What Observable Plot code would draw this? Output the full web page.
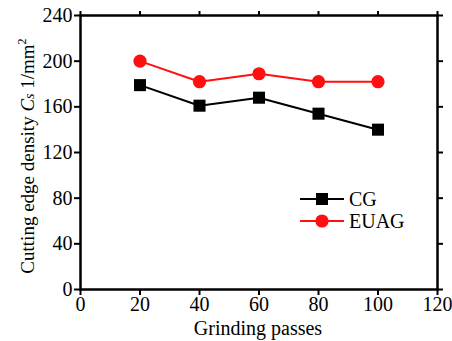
<!DOCTYPE html>
<html>
<head>
<meta charset="utf-8">
<script src="https://cdn.jsdelivr.net/npm/d3@7"></script>
<script src="https://cdn.jsdelivr.net/npm/@observablehq/plot@0.6"></script>
<style>
  html, body { margin: 0; padding: 0; background: white; }
</style>
</head>
<body>
<div id="chart"></div>
<script>
const passes = [20, 40, 60, 80, 100];
const cgValues = [179, 161, 168, 154, 140];
const euagValues = [200, 182, 189, 182, 182];
const xTicks = [0, 20, 40, 60, 80, 100, 120];
const yTicks = [0, 40, 80, 120, 160, 200, 240];
const seriesNames = ["CG", "EUAG"];
const xTitle = "Grinding passes";

const cg = passes.map((p, i) => ({x: p, y: cgValues[i]}));
const euag = passes.map((p, i) => ({x: p, y: euagValues[i]}));

const plot = Plot.plot({
  width: 452,
  height: 341,
  marginLeft: 80,
  marginRight: 15,
  marginTop: 15,
  marginBottom: 52,
  x: {domain: [0, 120]},
  y: {domain: [0, 240]},
  style: {fontFamily: "Liberation Serif", fontSize: "20px", color: "black", background: "white"},
  marks: [
    Plot.axisX({ticks: xTicks, tickSize: 6, tickPadding: 1, label: null, strokeWidth: 2}),
    Plot.axisX({anchor: "top", ticks: xTicks, tickSize: 5, tickFormat: () => "", label: null, strokeWidth: 2}),
    Plot.axisY({ticks: yTicks, tickSize: 6, tickPadding: 2, label: null, strokeWidth: 2}),
    Plot.axisY({anchor: "right", ticks: yTicks, tickSize: 5, tickFormat: () => "", label: null, strokeWidth: 2}),
    Plot.frame({stroke: "black", strokeWidth: 2.5}),
    Plot.line(cg, {x: "x", y: "y", stroke: "black", strokeWidth: 2}),
    Plot.dot(cg, {x: "x", y: "y", symbol: "square", r: 6.8, fill: "black", stroke: "none"}),
    Plot.line(euag, {x: "x", y: "y", stroke: "#ff1010", strokeWidth: 2}),
    Plot.dot(euag, {x: "x", y: "y", symbol: "circle", r: 6.6, fill: "#ff1010", stroke: "none"})
  ]
});

document.getElementById("chart").appendChild(plot);

const svg = d3.select(plot);
// X title
svg.append("text")
  .attr("x", 258).attr("y", 335)
  .attr("text-anchor", "middle")
  .attr("font-family", "Liberation Serif")
  .attr("font-size", 20)
  .attr("fill", "black")
  .text(xTitle);

// Y title
const yt = svg.append("text")
  .attr("transform", "translate(34,156) rotate(-90)")
  .attr("text-anchor", "middle")
  .attr("font-family", "Liberation Serif")
  .attr("font-size", 19)
  .attr("fill", "black");
yt.append("tspan").text("Cutting edge density ");
yt.append("tspan").attr("font-style", "italic").text("C");
yt.append("tspan").attr("font-style", "italic").attr("font-size", 14).text("s");
yt.append("tspan").text(" 1/mm");
yt.append("tspan").attr("font-size", 12).attr("dy", -8).text("2");

// Legend
const legend = svg.append("g").attr("font-family", "Liberation Serif").attr("font-size", 20).attr("text-anchor", "start");
const legItems = [
  {name: seriesNames[0], color: "black", sym: "square", y: 199},
  {name: seriesNames[1], color: "#ff1010", sym: "circle", y: 221}
];
legItems.forEach(it => {
  legend.append("line").attr("x1", 300).attr("x2", 344).attr("y1", it.y).attr("y2", it.y)
    .attr("stroke", it.color).attr("stroke-width", 2);
  if (it.sym === "square") {
    legend.append("rect").attr("x", 316).attr("y", it.y - 6).attr("width", 12).attr("height", 12).attr("fill", it.color);
  } else {
    legend.append("circle").attr("cx", 322).attr("cy", it.y).attr("r", 6.6).attr("fill", it.color);
  }
  legend.append("text").attr("x", 349).attr("y", it.y).attr("dy", "0.35em").attr("fill", "black").text(it.name);
});
</script>
</body>
</html>
